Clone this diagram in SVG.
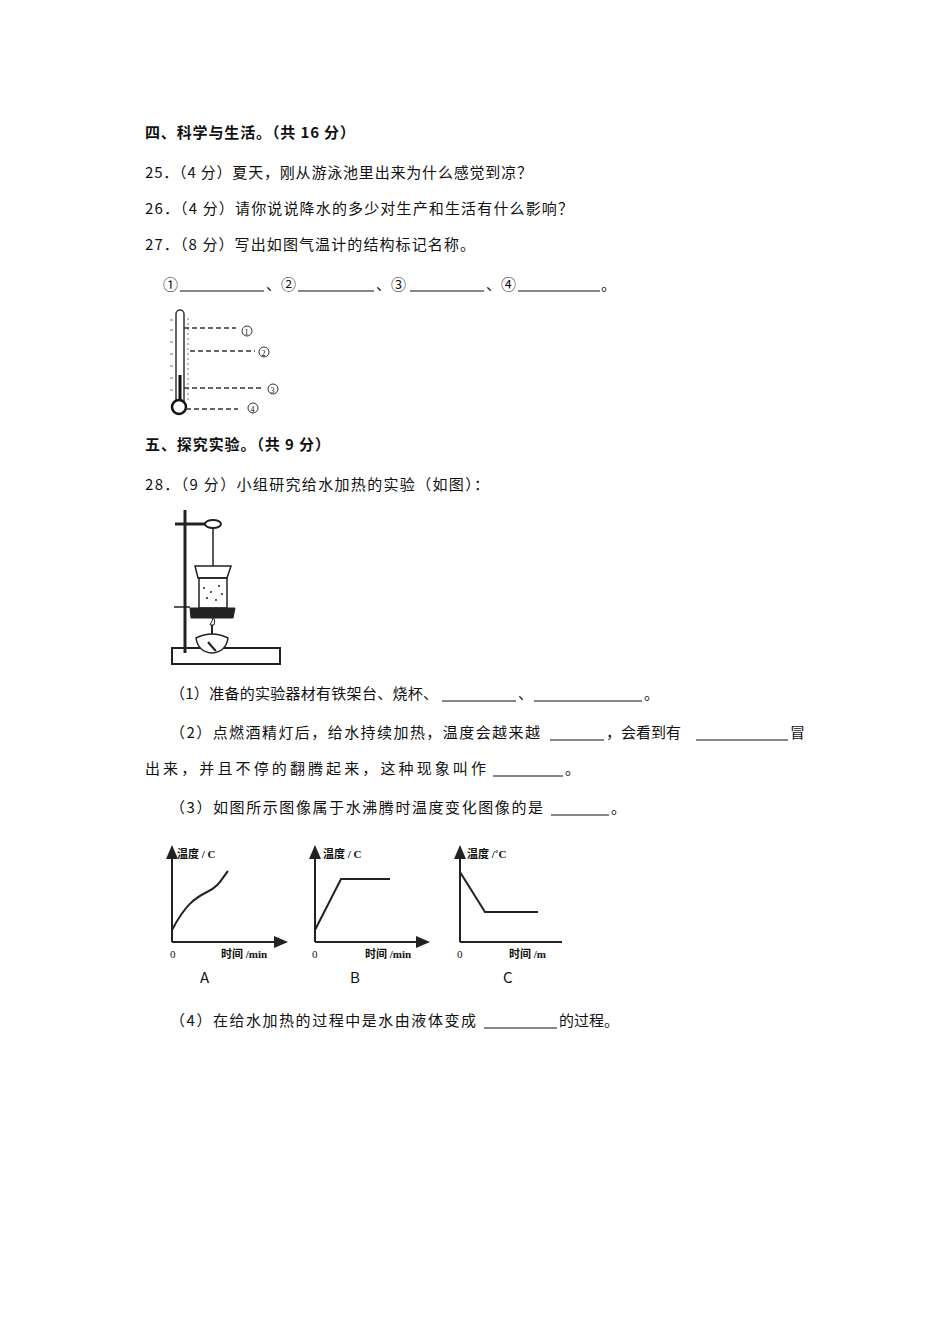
<svg xmlns="http://www.w3.org/2000/svg" width="950" height="1344" viewBox="0 0 950 1344">
<style>
text{font-family:"Noto Sans CJK SC","Liberation Serif",serif;font-size:15px;fill:#111}
.b{font-weight:bold;font-family:"Noto Sans CJK SC",sans-serif}
.u{stroke:#111;stroke-width:1}
.ln{stroke:#222;stroke-width:2;fill:none}
.d{stroke:#333;stroke-width:1.6;stroke-dasharray:5,3;fill:none}
.s{font-size:11px;font-family:"Liberation Serif","Noto Sans CJK SC",serif}
</style>
<defs><marker id="ar" markerWidth="8" markerHeight="8" refX="6" refY="4" orient="auto"><path d="M0,1 L7,4 L0,7 z" fill="#222"/></marker></defs>
<rect width="950" height="1344" fill="#fff"/>
<g id="text">
<text x="145" y="138" class="b" textLength="210" lengthAdjust="spacing">四、科学与生活。（共 16 分）</text>
<text x="145" y="178" textLength="387" lengthAdjust="spacing">25．（4 分）夏天，刚从游泳池里出来为什么感觉到凉？</text>
<text x="145" y="214" textLength="428" lengthAdjust="spacing">26．（4 分）请你说说降水的多少对生产和生活有什么影响？</text>
<text x="145" y="250" textLength="330" lengthAdjust="spacing">27．（8 分）写出如图气温计的结构标记名称。</text>
<text x="163" y="290">①</text><line class="u" x1="180" y1="291" x2="264" y2="291"/>
<text x="266" y="290">、②</text><line class="u" x1="298" y1="291" x2="374" y2="291"/>
<text x="376" y="290">、③</text><line class="u" x1="410" y1="291" x2="484" y2="291"/>
<text x="486" y="290">、④</text><line class="u" x1="518" y1="291" x2="600" y2="291"/>
<text x="601" y="290">。</text>
<text x="145" y="450" class="b" textLength="185" lengthAdjust="spacing">五、探究实验。（共 9 分）</text>
<text x="145" y="490" textLength="344" lengthAdjust="spacing">28．（9 分）小组研究给水加热的实验（如图）：</text>
<text x="170" y="699" textLength="268" lengthAdjust="spacing">（1）准备的实验器材有铁架台、烧杯、</text><line class="u" x1="442" y1="701" x2="516" y2="701"/>
<text x="518" y="699">、</text><line class="u" x1="534" y1="701" x2="642" y2="701"/>
<text x="644" y="699">。</text>
<text x="170" y="738" textLength="370" lengthAdjust="spacing">（2）点燃酒精灯后，给水持续加热，温度会越来越</text><line class="u" x1="550" y1="740" x2="604" y2="740"/>
<text x="606" y="738">，会看到有</text><line class="u" x1="696" y1="740" x2="788" y2="740"/>
<text x="790" y="738">冒</text>
<text x="145" y="774" textLength="341" lengthAdjust="spacing">出来，并且不停的翻腾起来，这种现象叫作</text><line class="u" x1="493" y1="776" x2="563" y2="776"/>
<text x="565" y="774">。</text>
<text x="170" y="813" textLength="373" lengthAdjust="spacing">（3）如图所示图像属于水沸腾时温度变化图像的是</text><line class="u" x1="551" y1="815" x2="609" y2="815"/>
<text x="611" y="813">。</text>
<text x="170" y="1026" textLength="306" lengthAdjust="spacing">（4）在给水加热的过程中是水由液体变成</text><line class="u" x1="484" y1="1028" x2="557" y2="1028"/>
<text x="559" y="1026">的过程。</text>
</g>
<g id="thermometer">
<rect x="176" y="310" width="8" height="96" rx="4" fill="#fff" stroke="#333" stroke-width="1.5"/>
<line x1="180" y1="375" x2="180" y2="402" stroke="#111" stroke-width="3"/>
<circle cx="179" cy="407" r="7" fill="#fff" stroke="#111" stroke-width="2.5"/>
<path d="M188,318 V400" stroke="#777" stroke-width="1" stroke-dasharray="2,3"/>
<path d="M170,320 H173 M170,330 H173 M170,342 H173 M170,354 H173 M170,366 H173 M170,378 H173 M170,390 H173" stroke="#777"/>
<path class="d" d="M184,328 H236 M190,351 H255 M184,388 H262 M186,409 H238"/>
<circle cx="247" cy="331" r="5" fill="none" stroke="#333"/><text x="244.5" y="334.5" class="s" style="font-size:8px">1</text>
<circle cx="264" cy="352" r="5" fill="none" stroke="#333"/><text x="261.5" y="355.5" class="s" style="font-size:8px">2</text>
<circle cx="273" cy="389" r="5" fill="none" stroke="#333"/><text x="270.5" y="392.5" class="s" style="font-size:8px">3</text>
<circle cx="253" cy="408" r="5" fill="none" stroke="#333"/><text x="250.5" y="411.5" class="s" style="font-size:8px">4</text>
</g>
<g id="apparatus" stroke="#222" fill="none">
<rect x="172" y="648" width="108" height="16" stroke-width="2" fill="#fff"/>
<line x1="185" y1="510" x2="185" y2="653" stroke-width="3"/>
<line x1="175" y1="524" x2="205" y2="524" stroke-width="3"/>
<ellipse cx="213" cy="524" rx="8" ry="4" stroke-width="2"/>
<line x1="213" y1="528" x2="213" y2="578" stroke-width="1.5"/>
<path d="M195,566 L231,566 L227,578 L198,578 Z" stroke-width="1.5" fill="#fff"/>
<rect x="199" y="578" width="28" height="30" stroke-width="1.5"/>
<path d="M203,588 h2 M210,592 h2 M218,586 h2 M206,598 h2 M215,600 h2 M221,594 h2" stroke-width="1.5"/>
<path d="M190,608 L235,608 L233,618 L191,618 Z" fill="#222"/>
<line x1="174" y1="607" x2="190" y2="607" stroke-width="1.5"/>
<path d="M210,625 q3,-5 3,-8 q3,4 1,8 Z" stroke-width="1"/>
<line x1="212" y1="625" x2="212" y2="637" stroke-width="2"/>
<path d="M196,638 Q212,630 228,638 Q226,652 212,653 Q198,652 196,638 Z" stroke-width="1.5" fill="#fff"/>
<path d="M208,642 q5,6 8,9" stroke-width="2"/>
</g>
<g id="graphs">
<g id="graphA">
<line class="ln" x1="172" y1="942" x2="172" y2="847" marker-end="url(#ar)"/>
<line class="ln" x1="172" y1="942" x2="286" y2="942" marker-end="url(#ar)"/>
<path class="ln" d="M172,930 C185,905 195,898 207,892 C220,886 222,878 228,871"/>
<text x="177" y="858" class="s" style="font-weight:bold">温度 / C</text>
<text x="170" y="958" class="s">0</text>
<text x="221" y="958" class="s" style="font-weight:bold">时间 /min</text>
<text x="200" y="983">A</text>
</g>
<g id="graphB">
<line class="ln" x1="315" y1="942" x2="315" y2="847" marker-end="url(#ar)"/>
<line class="ln" x1="315" y1="942" x2="428" y2="942" marker-end="url(#ar)"/>
<path class="ln" d="M315,930 L341,879 L390,879"/>
<text x="323" y="858" class="s" style="font-weight:bold">温度 / C</text>
<text x="312" y="958" class="s">0</text>
<text x="365" y="958" class="s" style="font-weight:bold">时间 /min</text>
<text x="350" y="983">B</text>
</g>
<g id="graphC">
<line class="ln" x1="460" y1="942" x2="460" y2="847" marker-end="url(#ar)"/>
<line class="ln" x1="460" y1="942" x2="562" y2="942"/>
<path class="ln" d="M460,872 L485,912 L538,912"/>
<text x="467" y="858" class="s" style="font-weight:bold">温度 /˚C</text>
<text x="457" y="958" class="s">0</text>
<text x="509" y="958" class="s" style="font-weight:bold">时间 /m</text>
<text x="503" y="983">C</text>
</g>
</g>
</svg>
